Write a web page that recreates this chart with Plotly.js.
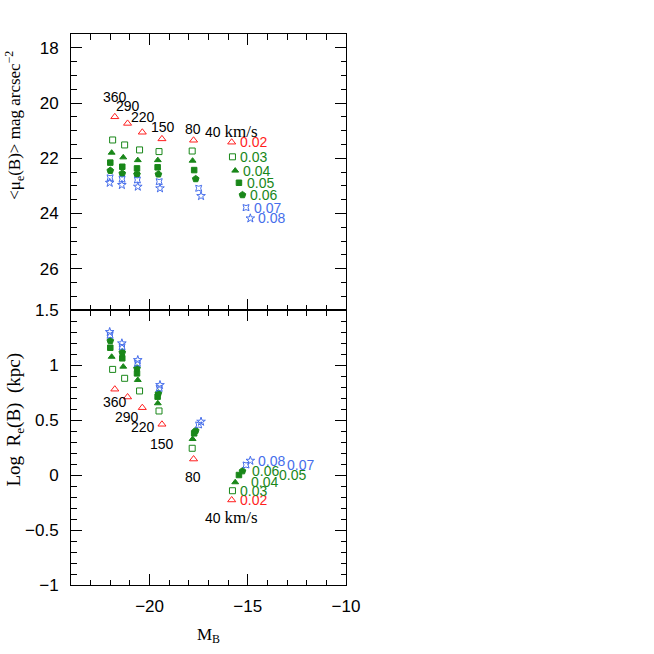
<!DOCTYPE html>
<html>
<head>
<meta charset="utf-8">
<script src="https://cdn.plot.ly/plotly-3.0.1.min.js"></script>
<style>html,body{margin:0;padding:0;background:#fff;}#chart{width:654px;height:654px;}</style>
</head>
<body>
<div id="chart"></div>
<script>
// Rotation velocities (km/s), one column of models each
const velocities = [360, 290, 220, 150, 80, 40];
// Metallicities Z
const metallicities = ['0.02', '0.03', '0.04', '0.05', '0.06', '0.07', '0.08'];

// Absolute B magnitude M_B per velocity (Z = 0.02 ... 0.08)
const mbV360 = [-21.77, -21.88, -21.93, -22.00, -22.00, -22.01, -22.03];
const mbV290 = [-21.12, -21.27, -21.34, -21.39, -21.39, -21.40, -21.41];
const mbV220 = [-20.37, -20.51, -20.60, -20.64, -20.64, -20.62, -20.60];
const mbV150 = [-19.37, -19.52, -19.58, -19.59, -19.55, -19.51, -19.47];
const mbV80  = [-17.76, -17.83, -17.81, -17.73, -17.65, -17.50, -17.38];
const mbV40  = [-15.82, -15.78, -15.64, -15.45, -15.27, -15.09, -14.87];

// Mean effective surface brightness <mu_e(B)> (mag arcsec^-2)
const muV360 = [20.50, 21.34, 21.80, 22.16, 22.45, 22.71, 22.89];
const muV290 = [20.74, 21.52, 21.97, 22.31, 22.55, 22.76, 22.97];
const muV220 = [21.06, 21.70, 22.07, 22.37, 22.58, 22.79, 23.03];
const muV150 = [21.30, 21.76, 22.07, 22.33, 22.58, 22.85, 23.09];
const muV80  = [21.35, 21.74, 22.09, 22.43, 22.75, 23.09, 23.37];
const muV40  = [21.42, 21.95, 22.45, 22.89, 23.33, 23.79, 24.18];

// Log effective radius R_e(B) (kpc)
const reV360 = [0.780, 0.960, 1.075, 1.157, 1.220, 1.270, 1.300];
const reV290 = [0.709, 0.879, 0.985, 1.061, 1.115, 1.166, 1.197];
const reV220 = [0.612, 0.764, 0.864, 0.924, 0.970, 1.015, 1.045];
const reV150 = [0.461, 0.582, 0.652, 0.712, 0.743, 0.788, 0.818];
const reV80  = [0.145, 0.243, 0.327, 0.379, 0.403, 0.455, 0.485];
const reV40  = [-0.227, -0.143, -0.066, 0.000, 0.036, 0.091, 0.130];

const velocityLabels = ['360', '290', '220', '150', '80', '40 km/s'];

const MB = [mbV360, mbV290, mbV220, mbV150, mbV80, mbV40];
const MU = [muV360, muV290, muV220, muV150, muV80, muV40];
const RE = [reV360, reV290, reV220, reV150, reV80, reV40];

const RED = 'rgb(255,30,30)', GREEN = 'rgb(25,135,25)', BLUE = 'rgb(70,110,235)';
const styles = [
  {symbol: 'triangle-up-open', color: RED, size: 7},
  {symbol: 'square-open', color: GREEN, size: 6},
  {symbol: 'triangle-up', color: GREEN, size: 6},
  {symbol: 'square', color: GREEN, size: 5.5},
  {symbol: 'pentagon', color: GREEN, size: 7},
  {symbol: 'star-square-open', color: BLUE, size: 5.5},
  {symbol: 'star-open', color: BLUE, size: 6.5}
];

const traces = [];
metallicities.forEach((z, i) => {
  const st = styles[i];
  const marker = {symbol: st.symbol, color: st.color, size: st.size, line: {color: st.color, width: 1}};
  traces.push({x: MB.map(c => c[i]), y: MU.map(c => c[i]), xaxis: 'x2', yaxis: 'y2',
    mode: 'markers', type: 'scatter', marker: marker, name: z, showlegend: false, hoverinfo: 'x+y'});
  traces.push({x: MB.map(c => c[i]), y: RE.map(c => c[i]), xaxis: 'x', yaxis: 'y',
    mode: 'markers', type: 'scatter', marker: marker, name: z, showlegend: false, hoverinfo: 'x+y'});
});

const SANS = 'Liberation Sans, Arial, sans-serif';
const SERIF = 'Liberation Serif, Times New Roman, serif';
const fmtLabel = t => t.replace(' km/s', '&nbsp;<span style="font-family:Liberation Serif;font-size:17px">km/s</span>');

const annotations = [];
// Velocity labels
const topLab = [[-21.76, 19.77], [-21.08, 20.11], [-20.32, 20.52], [-19.33, 20.86], [-17.77, 20.95], [-15.85, 21.02]];
const botLab = [[-21.76, 0.666], [-21.16, 0.530], [-20.35, 0.439], [-19.37, 0.282], [-17.79, -0.018], [-15.85, -0.385]];
velocityLabels.forEach((t, k) => {
  annotations.push({x: topLab[k][0], y: topLab[k][1], xref: 'x2', yref: 'y2', text: fmtLabel(t), showarrow: false,
    font: {family: SANS, size: 14, color: '#000'}});
  annotations.push({x: botLab[k][0], y: botLab[k][1], xref: 'x', yref: 'y', text: fmtLabel(t), showarrow: false,
    font: {family: SANS, size: 14, color: '#000'}});
});
// Metallicity labels next to the 40 km/s column
const topShift = [6, 6, 6, 6, 6, 6, 6];
const botShift = [6, 6, 14, 38, 8, 39, 6];
metallicities.forEach((z, i) => {
  const c = styles[i].color;
  annotations.push({x: mbV40[i], y: muV40[i], xref: 'x2', yref: 'y2', text: z, showarrow: false,
    xanchor: 'left', xshift: topShift[i], font: {family: SANS, size: 14, color: c}});
  annotations.push({x: mbV40[i], y: reV40[i], xref: 'x', yref: 'y', text: z, showarrow: false,
    xanchor: 'left', xshift: botShift[i], font: {family: SANS, size: 14, color: c}});
});
// Y-axis titles (placed as rotated paper annotations)
annotations.push({xref: 'paper', yref: 'paper', x: -0.204, y: 0.835, xanchor: 'center', yanchor: 'middle',
  textangle: -90, showarrow: false,
  text: '&lt;μ<sub>e</sub>(B)&gt;&nbsp;mag&nbsp;arcsec<sup>−2</sup>',
  font: {family: SERIF, size: 17, color: '#000'}});
annotations.push({xref: 'paper', yref: 'paper', x: -0.204, y: 0.300, xanchor: 'center', yanchor: 'middle',
  textangle: -90, showarrow: false,
  text: 'Log&nbsp;&nbsp;R<sub>e</sub>(B)&nbsp;&nbsp;(kpc)',
  font: {family: SERIF, size: 19, color: '#000'}});

const axisCommon = {
  showline: true, linecolor: '#000', linewidth: 1, mirror: 'ticks',
  ticks: 'inside', ticklen: 11, tickwidth: 1, tickcolor: '#000',
  showgrid: false, zeroline: false,
  tickfont: {family: SANS, size: 17, color: '#000'}
};
const minorTicks = d => ({dtick: d, ticklen: 5.5, ticks: 'inside', tickcolor: '#000', tickwidth: 1});

const split = 275 / 551;
const layout = {
  width: 654, height: 654,
  margin: {l: 71, r: 308, t: 34, b: 69},
  paper_bgcolor: '#fff', plot_bgcolor: '#fff',
  showlegend: false,
  xaxis: Object.assign({}, axisCommon, {
    range: [-24, -10], dtick: 5, tick0: -25, anchor: 'y',
    minor: minorTicks(1),
    ticklabelstandoff: 6,
    title: {text: 'M<sub>B</sub>', font: {family: SERIF, size: 17, color: '#000'}, standoff: 12}
  }),
  xaxis2: Object.assign({}, axisCommon, {
    range: [-24, -10], dtick: 5, tick0: -25, anchor: 'y2', matches: 'x', showticklabels: false,
    minor: minorTicks(1)
  }),
  yaxis: Object.assign({}, axisCommon, {
    domain: [0, split], range: [-1, 1.5], dtick: 0.5, tick0: 0, anchor: 'x',
    minor: minorTicks(0.1),
    ticklabelstandoff: 8
  }),
  yaxis2: Object.assign({}, axisCommon, {
    domain: [split, 1], range: [27.5, 17.5], dtick: 2, tick0: 18, anchor: 'x2',
    minor: minorTicks(0.5),
    ticklabelstandoff: 8
  }),
  annotations: annotations
};

Plotly.newPlot('chart', traces, layout, {staticPlot: true, displayModeBar: false});
</script>
</body>
</html>
